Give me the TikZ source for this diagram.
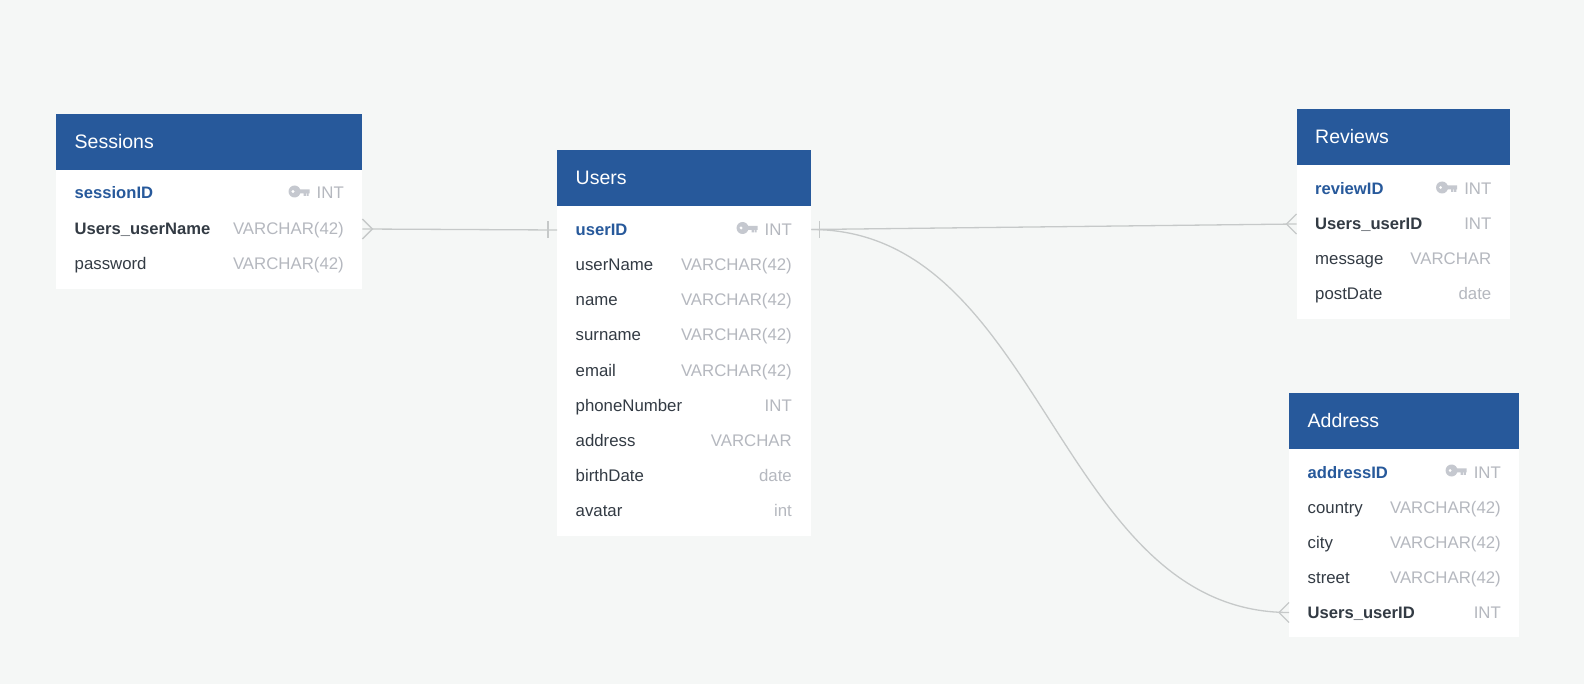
\documentclass[tikz,border=0pt]{standalone}
\usepackage{fontspec}
\setmainfont{Liberation Sans}
\usepackage{xcolor}
\definecolor{pagebg}{HTML}{F5F7F6}
\definecolor{headblue}{HTML}{27599B}
\definecolor{rowdark}{HTML}{333B44}
\definecolor{typegray}{HTML}{B5B8BF}
\definecolor{keygray}{HTML}{C5C8CF}
\definecolor{linkgray}{HTML}{C6C9C9}

\begin{document}
\begin{tikzpicture}[
        x=1pt, y=-1pt,
        tablehead/.style={anchor=north west, inner sep=0pt, fill=headblue, minimum height=56pt},
        tablebody/.style={anchor=north west, inner sep=0pt, fill=white},
        tabletitle/.style={anchor=base west, inner sep=0pt, text=white, font=\fontsize{19.5}{22}\selectfont},
        rowname/.style={anchor=base west, inner sep=0pt, text=rowdark, font=\fontsize{16.8}{20}\selectfont},
        rowfk/.style={rowname, font=\fontsize{16.6}{20}\selectfont\bfseries},
        rowpk/.style={rowfk, text=headblue},
        rowtype/.style={anchor=base east, inner sep=0pt, text=typegray, font=\fontsize{16.8}{20}\selectfont},
        link/.style={draw=linkgray, line width=1.3pt},
        keyicon/.pic={
            \fill[keygray, even odd rule] (-15,-7.5) circle (6) (-16.5,-7.5) circle (1.8);
            \fill[keygray] (-11,-9.7) -- (0,-9.7) -- (0,-5.7) -- (-0.8,-5.7) -- (-0.8,-3.2) -- (-3,-3.2) -- (-3,-5.7) -- (-3.6,-5.7) -- (-3.6,-3.2) -- (-6,-3.2) -- (-6,-5.7) -- (-11,-5.7) -- cycle;
        },
        crowfoot/.pic={
            \draw[link] (0,-10) -- (10,0) -- (0,10);
        },
        onebar/.pic={
            \draw[link] (0,-8.5) -- (0,8.5);
        }
    ]
        \useasboundingbox[fill=pagebg] (0,0) rectangle (1584,684);

        % Sessions
        \node[tablebody, minimum width=306pt, minimum height=119pt] (sessionsBody) at (56,170) {};
        \node[tablehead, minimum width=306pt] (sessionsHead) at (56,114) {};
        \node[tabletitle] (sessionsTitle) at (74.5,149) {Sessions};
        \node[rowpk] (sessionId) at (74.5,199) {sessionID};
        \node[rowtype] (sessionIdType) at (344,199) {INT};
        \pic at ([xshift=-7pt]sessionIdType.base west) {keyicon};
        \node[rowfk] (sessionUser) at (74.5,234.5) {Users\_userName};
        \node[rowtype] (sessionUserType) at (344,234.5) {VARCHAR(42)};
        \node[rowname] (sessionPass) at (74.5,269.5) {password};
        \node[rowtype] (sessionPassType) at (344,269.5) {VARCHAR(42)};

        % Users
        \node[tablebody, minimum width=254pt, minimum height=330pt] (usersBody) at (557,206) {};
        \node[tablehead, minimum width=254pt] (usersHead) at (557,150) {};
        \node[tabletitle] (usersTitle) at (575.5,184.5) {Users};
        \node[rowpk] (userId) at (575.5,235.5) {userID};
        \node[rowtype] (userIdType) at (792,235.5) {INT};
        \pic at ([xshift=-7pt]userIdType.base west) {keyicon};
        \node[rowname] (userName) at (575.5,270.5) {userName};
        \node[rowtype] (userNameType) at (792,270.5) {VARCHAR(42)};
        \node[rowname] (userFirst) at (575.5,305.5) {name};
        \node[rowtype] (userFirstType) at (792,305.5) {VARCHAR(42)};
        \node[rowname] (userSurname) at (575.5,340.5) {surname};
        \node[rowtype] (userSurnameType) at (792,340.5) {VARCHAR(42)};
        \node[rowname] (userEmail) at (575.5,376) {email};
        \node[rowtype] (userEmailType) at (792,376) {VARCHAR(42)};
        \node[rowname] (userPhone) at (575.5,411) {phoneNumber};
        \node[rowtype] (userPhoneType) at (792,411) {INT};
        \node[rowname] (userAddress) at (575.5,446) {address};
        \node[rowtype] (userAddressType) at (792,446) {VARCHAR};
        \node[rowname] (userBirth) at (575.5,481) {birthDate};
        \node[rowtype] (userBirthType) at (792,481) {date};
        \node[rowname] (userAvatar) at (575.5,516) {avatar};
        \node[rowtype] (userAvatarType) at (792,516) {int};

        % Reviews
        \node[tablebody, minimum width=213.5pt, minimum height=154pt] (reviewsBody) at (1296.5,165) {};
        \node[tablehead, minimum width=213.5pt] (reviewsHead) at (1296.5,109) {};
        \node[tabletitle] (reviewsTitle) at (1315,143.5) {Reviews};
        \node[rowpk] (reviewId) at (1315,195) {reviewID};
        \node[rowtype] (reviewIdType) at (1491.5,195) {INT};
        \pic at ([xshift=-7pt]reviewIdType.base west) {keyicon};
        \node[rowfk] (reviewUser) at (1315,230) {Users\_userID};
        \node[rowtype] (reviewUserType) at (1491.5,230) {INT};
        \node[rowname] (reviewMessage) at (1315,265) {message};
        \node[rowtype] (reviewMessageType) at (1491.5,265) {VARCHAR};
        \node[rowname] (reviewDate) at (1315,300) {postDate};
        \node[rowtype] (reviewDateType) at (1491.5,300) {date};

        % Address
        \node[tablebody, minimum width=230pt, minimum height=188pt] (addressBody) at (1289,449) {};
        \node[tablehead, minimum width=230pt] (addressHead) at (1289,393) {};
        \node[tabletitle] (addressTitle) at (1307.5,427.5) {Address};
        \node[rowpk] (addressId) at (1307.5,478) {addressID};
        \node[rowtype] (addressIdType) at (1501,478) {INT};
        \pic at ([xshift=-7pt]addressIdType.base west) {keyicon};
        \node[rowname] (addressCountry) at (1307.5,513) {country};
        \node[rowtype] (addressCountryType) at (1501,513) {VARCHAR(42)};
        \node[rowname] (addressCity) at (1307.5,548) {city};
        \node[rowtype] (addressCityType) at (1501,548) {VARCHAR(42)};
        \node[rowname] (addressStreet) at (1307.5,583) {street};
        \node[rowtype] (addressStreetType) at (1501,583) {VARCHAR(42)};
        \node[rowfk] (addressUser) at (1307.5,618) {Users\_userID};
        \node[rowtype] (addressUserType) at (1501,618) {INT};

        % Attacchi delle relazioni
        \coordinate (sessionsLink) at (sessionsBody.east |- 0,229);
        \coordinate (usersLeft) at (usersBody.west |- 0,230);
        \coordinate (usersRight) at (usersBody.east |- 0,229.5);
        \coordinate (reviewsLink) at (reviewsBody.west |- 0,224);
        \coordinate (addressLink) at (addressBody.west |- 0,612.5);

        % Relazioni
        \draw[link] (sessionsLink) -- (usersLeft);
        \draw[link] (usersRight) -- (reviewsLink);
        \draw[link] (usersRight) .. controls ++(232,0) and ([xshift=-232pt]addressLink) .. (addressLink);
        \pic at (sessionsLink) {crowfoot};
        \pic[xshift=-9pt] at (usersLeft) {onebar};
        \pic[xshift=8pt] at (usersRight) {onebar};
        \pic[xscale=-1] at (reviewsLink) {crowfoot};
        \pic[xscale=-1] at (addressLink) {crowfoot};
    \end{tikzpicture}
\end{document}
